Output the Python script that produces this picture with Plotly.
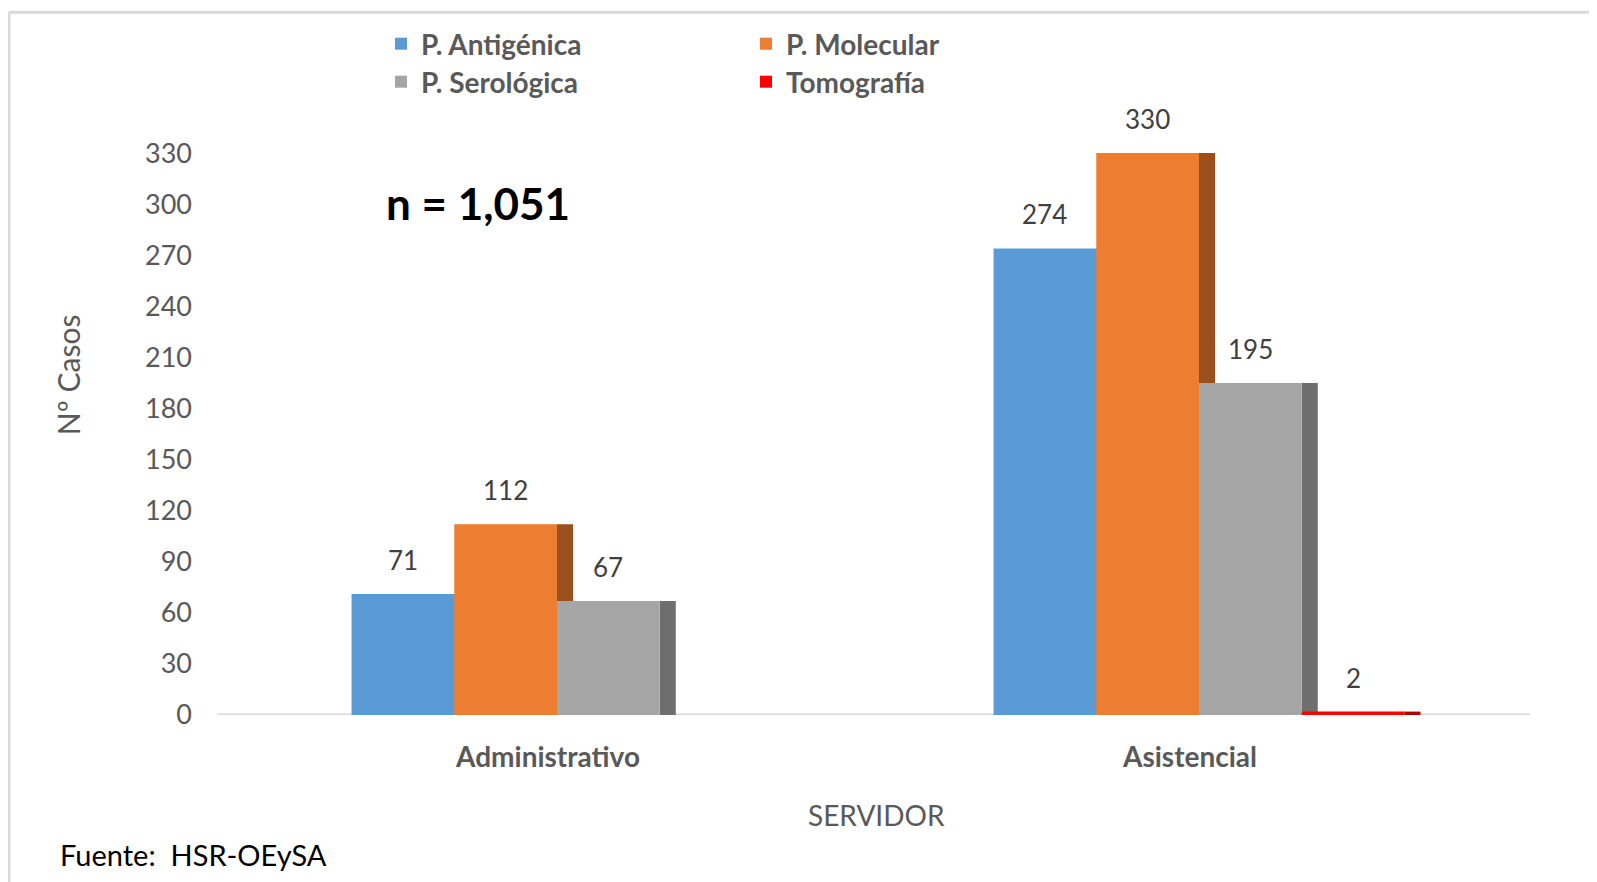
import plotly.graph_objects as go

categories = ["Administrativo", "Asistencial"]
series_names = ["P. Antigénica", "P. Molecular", "P. Serológica", "Tomografía"]
antigenica = [71, 274]
molecular = [112, 330]
serologica = [67, 195]
tomografia = [0, 2]
y_ticks = [0, 30, 60, 90, 120, 150, 180, 210, 240, 270, 300, 330]

series_values = [antigenica, molecular, serologica, tomografia]
front_colors = ["#5B9BD5", "#ED7D31", "#A5A5A5", "#FF0000"]
side_colors = ["#3E6E9C", "#9A4F1D", "#6E6E6E", "#B00000"]
legend_ids = ["legend", "legend", "legend2", "legend2"]

OFF = 8                      # page body margin
W, H = 1597 - OFF, 882 - OFF  # figure size
ml, mr, mt, mb = 228, 77, 109, 167
pw = W - ml - mr
ph = H - mt - mb

bw = 0.16      # bar width in category units
sd = 0.025     # side-face depth in category units
font = "Lato"

fig = go.Figure()

# side faces (drawn first, so neighbouring front faces cover them)
for i, vals in enumerate(series_values):
    fig.add_trace(go.Bar(
        x=categories, y=vals, width=sd, offset=-2 * bw + (i + 1) * bw,
        marker=dict(color=side_colors[i], line=dict(width=0)),
        showlegend=False, hoverinfo="skip"))

# front faces
for i, vals in enumerate(series_values):
    fig.add_trace(go.Bar(
        x=categories, y=vals, width=bw, offset=-2 * bw + i * bw,
        name=series_names[i], legend=legend_ids[i],
        marker=dict(color=front_colors[i], line=dict(width=0))))

# data labels
for i, vals in enumerate(series_values):
    for j, v in enumerate(vals):
        if v > 0:
            fig.add_annotation(
                x=j - 2 * bw + (i + 0.5) * bw, y=v, xref="x", yref="y",
                text=str(v), showarrow=False, xanchor="center",
                yanchor="middle", yshift=34,
                font=dict(family=font, size=26, color="#404040"))


def px(page_x):
    return (page_x - OFF - ml) / pw


def py(page_y):
    return (H - mb - (page_y - OFF)) / ph


def note(x, y, text, size, color, xanchor="center", angle=0):
    fig.add_annotation(x=px(x), y=py(y), xref="paper", yref="paper",
                       text=text, showarrow=False, textangle=angle,
                       xanchor=xanchor, yanchor="middle",
                       font=dict(family=font, size=size, color=color))


note(478, 201, "<b>n = 1,051</b>", 44, "#000000")
note(68, 374, "Nº Casos", 30, "#595959", angle=-90)
note(876, 815, "SERVIDOR", 28, "#595959")
note(58, 855, "Fuente:  HSR-OEySA", 29, "#000000", xanchor="left")

# chart frame (light border top and left)
fig.add_shape(type="line", xref="paper", yref="paper",
              x0=px(9), x1=px(1610), y0=py(10), y1=py(10),
              line=dict(color="#D9D9D9", width=3))
fig.add_shape(type="line", xref="paper", yref="paper",
              x0=px(9), x1=px(9), y0=py(10), y1=py(900),
              line=dict(color="#D9D9D9", width=3))
# floor line at y = 0
fig.add_shape(type="line", xref="paper", yref="y",
              x0=px(217), x1=px(1530), y0=0, y1=0, layer="below",
              line=dict(color="#D9D9D9", width=3))

legend_common = dict(
    orientation="h", xref="container", yref="container",
    xanchor="left", yanchor="middle", x=373 / W,
    entrywidth=320, entrywidthmode="pixels",
    font=dict(family=font, size=28, color="#595959", weight="bold"),
    bgcolor="rgba(0,0,0,0)", traceorder="normal")

fig.update_layout(
    width=W, height=H,
    margin=dict(l=ml, r=mr, t=mt, b=mb),
    paper_bgcolor="white", plot_bgcolor="white",
    barmode="overlay",
    font=dict(family=font, color="#595959"),
    showlegend=True,
    legend=dict(**legend_common, y=1 - (44 - OFF) / H),
    legend2=dict(**legend_common, y=1 - (82 - OFF) / H),
    xaxis=dict(
        type="category", range=[-0.5, 1.5],
        showgrid=False, zeroline=False, showline=False,
        ticks="", ticklabelstandoff=23, ticklabelshift=-9,
        tickfont=dict(family=font, size=28, color="#595959", weight="bold")),
    yaxis=dict(
        range=[0, 350], tickvals=y_ticks, showgrid=False, zeroline=False,
        showline=False, ticks="", ticklabelstandoff=43,
        tickfont=dict(family=font, size=27, color="#595959")),
)

fig.write_html("out.html")
